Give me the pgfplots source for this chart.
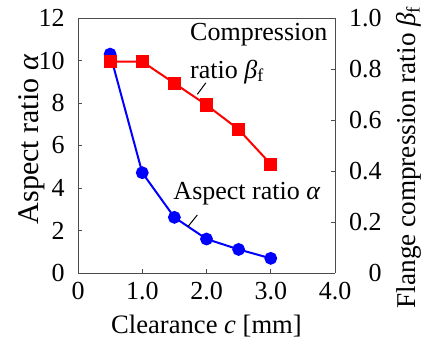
\documentclass[border=0pt]{standalone}
\usepackage{fontspec}
\setmainfont{Liberation Serif}
\newfontfamily\tnr{Liberation Serif}
\usepackage{pgfplots}
\pgfplotsset{compat=1.18}
\definecolor{frame}{gray}{0.3}
\begin{document}
\tnr\fontsize{13}{15.6}\selectfont
\begin{tikzpicture}
\pgfplotsset{
  common/.style={
    scale only axis, width=128.5pt, height=127.5pt,
    xmin=0, xmax=4, 
    tick align=inside, major tick length=2pt,
    axis line style={frame, line width=0.5pt},
    every tick/.style={frame, line width=0.5pt},
    tick label style={font=\tnr\fontsize{13}{15.6}\selectfont},
    label style={font=\tnr\fontsize{13}{15.6}\selectfont},
  }
}
\path[use as bounding box] (-39pt,-38.5pt) rectangle (174pt,136.5pt);
\begin{axis}[common,
  at={(0,0)}, anchor=south west,
  ymin=0, ymax=12, ytick={0,2,4,6,8,10,12},
  yticklabels={{\tnr 0},{\tnr 2},{\tnr 4},{\tnr 6},{\tnr 8},{\tnr 10},{\tnr 12}},
  xtick={0,1,2,3,4}, xticklabels={{\tnr 0},{\tnr 1.0},{\tnr 2.0},{\tnr 3.0},{\tnr 4.0}},
  yticklabel style={anchor=east, inner sep=0pt, xshift=-6.5pt},
  axis y line*=left, axis x line*=bottom,
  xlabel={Clearance \textit{c} [mm]},
  ylabel={Aspect ratio \textit{α}},
  xlabel style={yshift=1pt, font=\tnr\fontsize{13.3}{16}\selectfont},
  ylabel style={yshift=-7.5pt, xshift=3pt, font=\tnr\fontsize{15}{18}\selectfont},
  clip=false,
]
\draw[frame, line width=0.5pt] (rel axis cs:0,1) -- (rel axis cs:1,1);
\addplot[blue, line width=1pt, mark=*, mark size=2.7pt, mark options={fill=blue, draw=blue}]
  coordinates {(0.5,10.3) (1.0,4.72) (1.5,2.62) (2.0,1.6) (2.5,1.11) (3.0,0.69)};
\node[anchor=west, inner sep=0pt] at (axis cs:1.74,11.2) {Compression};
\node[anchor=west, inner sep=0pt] at (axis cs:1.74,9.47) {ratio \textit{β}\raisebox{-0.3ex}{\fontsize{9}{10}\selectfont f}};
\node[anchor=west, inner sep=0pt] at (axis cs:1.48,3.75) {Aspect ratio \textit{α}};
\draw[black, line width=0.5pt] (axis cs:1.857,8.41) -- (axis cs:1.99,8.95);
\draw[black, line width=0.5pt] (axis cs:1.71,2.18) -- (axis cs:1.857,2.73);
\end{axis}
\begin{axis}[common,
  at={(0,0)}, anchor=south west,
  ymin=0, ymax=1.0, ytick={0,0.2,0.4,0.6,0.8,1.0},
  yticklabels={{\tnr 0},{\tnr 0.2},{\tnr 0.4},{\tnr 0.6},{\tnr 0.8},{\tnr 1.0}},
  yticklabel style={anchor=east, inner sep=0pt, xshift=23.5pt},
  axis y line*=right, axis x line=none,
  ylabel={Flange compression ratio \textit{β}\raisebox{-0.3ex}{\fontsize{9.5}{10}\selectfont f}},
  ylabel style={yshift=-3pt, xshift=-6pt, font=\tnr\fontsize{13.6}{16}\selectfont},
]
\addplot[red, line width=1pt, mark=square*, mark size=2.8pt, mark options={fill=red, draw=red}]
  coordinates {(0.5,0.829) (1.0,0.829) (1.5,0.744) (2.0,0.659) (2.5,0.563) (3.0,0.427)};
\end{axis}
\end{tikzpicture}
\end{document}
